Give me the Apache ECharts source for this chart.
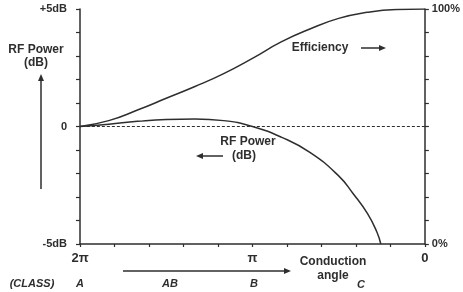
<!DOCTYPE html>
<html>
<head>
<meta charset="utf-8">
<script src="https://cdn.jsdelivr.net/npm/echarts@6/dist/echarts.min.js"></script>
<style>
  html, body { margin: 0; padding: 0; background: #fff; }
  #chart { width: 463px; height: 292px; }
</style>
</head>
<body>
<div id="chart"></div>
<script>
// conduction angle in degrees (360 = 2pi, 0 = 0)
var effAngle = [360, 330, 300, 270, 240, 210, 180, 150, 120, 90, 60, 30, 0]
var effValue = [50, 52.5, 57, 62, 67, 72.5, 79, 86, 91.5, 96, 98.6, 99.8, 100]
var rfAngle = [360, 330, 300, 270, 240, 210, 180, 150, 120, 90, 75, 60, 50, 46]
var rfValue = [0, 0.1, 0.22, 0.3, 0.32, 0.25, 0, -0.45, -1.1, -2.1, -2.85, -3.7, -4.5, -5]
var angleLabels = { 360: '2\u03c0', 180: '\u03c0', 0: '0' }
var dbLabels = { 5: '+5dB', 0: '0', '-5': '-5dB' }
var pctLabels = { 100: '100%', 0: '0%' }

var ink = '#2e2e2e'
var font = 'Liberation Sans, Arial, sans-serif'

function pairs (xs, ys) {
  var out = []
  for (var i = 0; i < xs.length; i++) out.push([xs[i], ys[i]])
  return out
}

function txt (x, y, s, opt) {
  opt = opt || {}
  return {
    type: 'text',
    style: {
      x: x, y: y,
      text: s, fill: ink, font: (opt.italic ? 'italic ' : '') + 'bold ' + (opt.size || 12) + 'px ' + font,
      align: opt.align || 'center', verticalAlign: 'middle'
    }
  }
}

function arrow (x1, y1, x2, y2) {
  var dx = x2 - x1, dy = y2 - y1
  var len = Math.sqrt(dx * dx + dy * dy)
  var ux = dx / len, uy = dy / len
  var hl = 7, hw = 3
  return [
    { type: 'line', shape: { x1: x1, y1: y1, x2: x2 - ux * 4, y2: y2 - uy * 4 }, style: { stroke: ink, lineWidth: 1.5 } },
    { type: 'polygon', shape: { points: [[x2, y2], [x2 - ux * hl - uy * hw, y2 - uy * hl + ux * hw], [x2 - ux * hl + uy * hw, y2 - uy * hl - ux * hw]] }, style: { fill: ink } }
  ]
}

var chart = echarts.init(document.getElementById('chart'))

var graphics = [
  txt(36, 50, 'RF Power'),
  txt(36, 63, '(dB)'),
  txt(320, 48, 'Efficiency'),
  txt(248, 142, 'RF Power'),
  txt(244, 156, '(dB)'),
  txt(333, 262, 'Conduction'),
  txt(333, 276, 'angle'),
  txt(32, 284, '(CLASS)', { italic: true, size: 11 }),
  txt(80, 284, 'A', { italic: true, size: 11 }),
  txt(170, 284, 'AB', { italic: true, size: 11 }),
  txt(254, 284, 'B', { italic: true, size: 11 }),
  txt(361, 285, 'C', { italic: true, size: 11 })
]
graphics = graphics.concat(
  arrow(41, 189, 41, 74),
  arrow(361, 48, 386, 48),
  arrow(223, 156, 196, 156),
  arrow(123, 271, 291, 271)
)

chart.setOption({
  backgroundColor: '#fff',
  animation: false,
  grid: { left: 80, right: 37, top: 9, bottom: 48 },
  xAxis: {
    type: 'value', min: 0, max: 360, interval: 36, inverse: true,
    axisLine: { onZero: false, lineStyle: { color: ink, width: 1.5 } },
    axisTick: { show: true, length: 3, lineStyle: { color: ink, width: 1.2 } },
    splitLine: { show: false },
    axisLabel: {
      margin: 8, color: ink, fontFamily: font, fontWeight: 'bold', fontSize: 13,
      formatter: function (v) { return angleLabels[v] || '' }
    }
  },
  yAxis: [
    {
      type: 'value', min: -5, max: 5, interval: 1, position: 'left',
      axisLine: { show: true, onZero: false, lineStyle: { color: ink, width: 1.5 } },
      axisTick: { show: true, length: 4, lineStyle: { color: ink, width: 1.2 } },
      splitLine: { show: false },
      axisLabel: {
        margin: 13, color: ink, fontFamily: font, fontWeight: 'bold', fontSize: 11,
        formatter: function (v) { return dbLabels[v] || '' }
      }
    },
    {
      type: 'value', min: 0, max: 100, interval: 10, position: 'right',
      axisLine: { show: true, onZero: false, lineStyle: { color: ink, width: 1.5 } },
      axisTick: { show: true, length: 4, lineStyle: { color: ink, width: 1.2 } },
      splitLine: { show: false },
      axisLabel: {
        margin: 7, color: ink, fontFamily: font, fontWeight: 'bold', fontSize: 11,
        formatter: function (v) { return pctLabels[v] || '' }
      }
    }
  ],
  series: [
    {
      name: 'RF Power', type: 'line', yAxisIndex: 0, smooth: true, symbol: 'none',
      data: pairs(rfAngle, rfValue),
      lineStyle: { color: ink, width: 1.5 },
      markLine: {
        silent: true, symbol: 'none', label: { show: false },
        lineStyle: { color: ink, type: [3, 2], width: 1.2 },
        data: [{ yAxis: 0 }]
      }
    },
    {
      name: 'Efficiency', type: 'line', yAxisIndex: 1, smooth: true, symbol: 'none',
      data: pairs(effAngle, effValue),
      lineStyle: { color: ink, width: 1.5 }
    }
  ],
  graphic: graphics
})
</script>
</body>
</html>
